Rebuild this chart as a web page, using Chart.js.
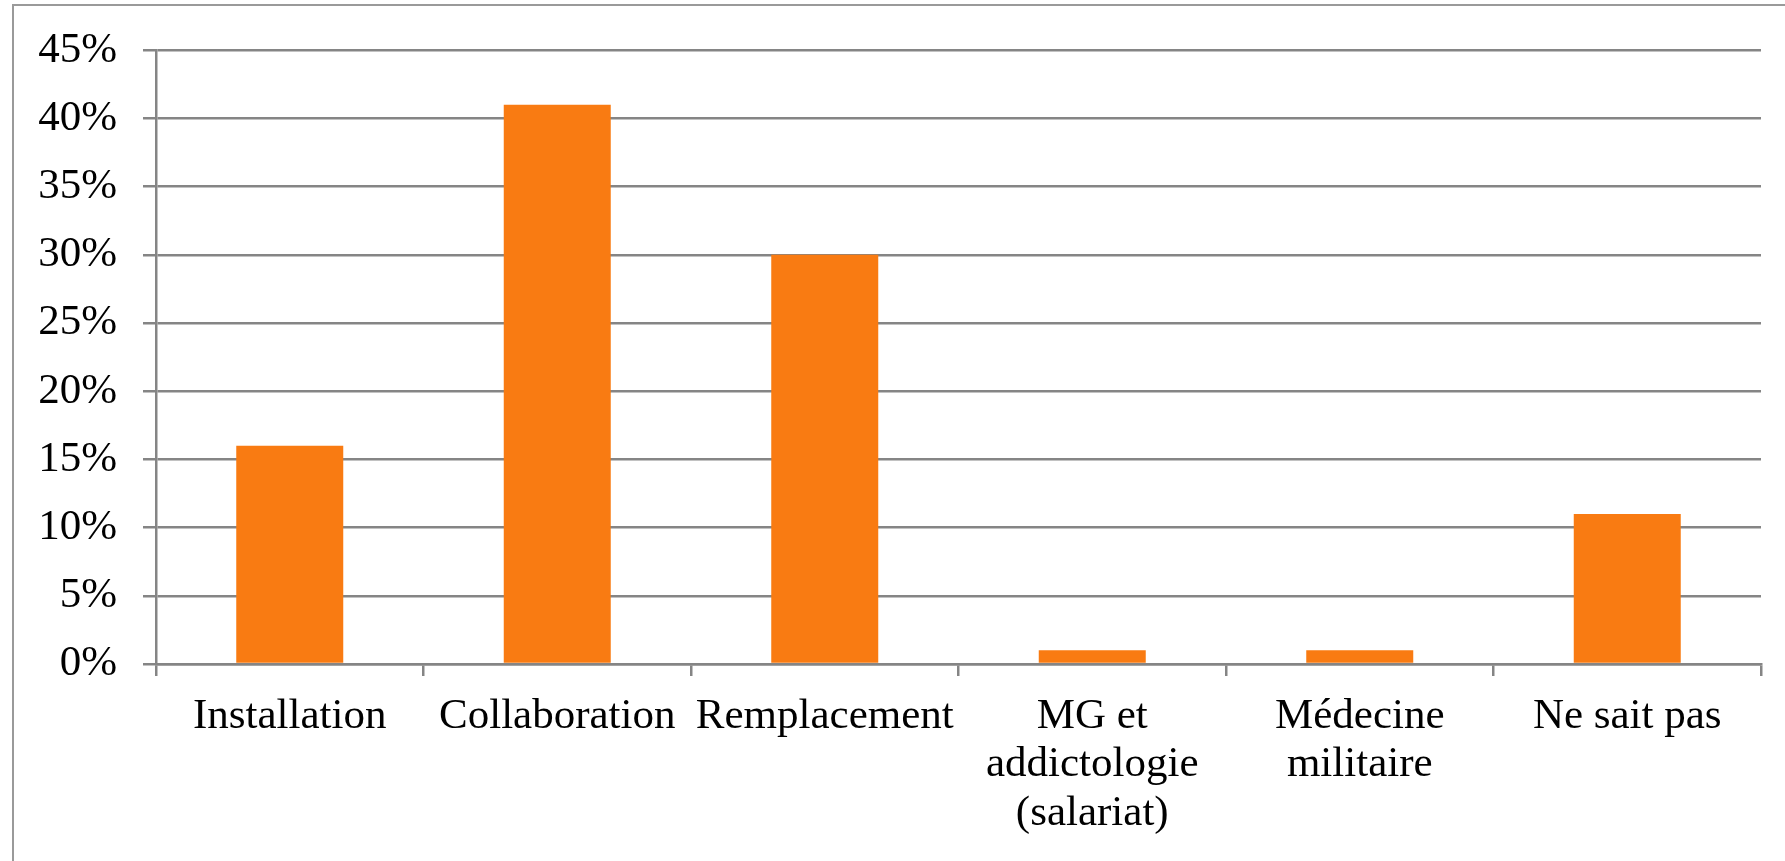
<!DOCTYPE html>
<html>
<head>
<meta charset="utf-8">
<script src="https://cdn.jsdelivr.net/npm/chart.js@4"></script>
<style>
    html, body { margin: 0; padding: 0; background: #fff; overflow: hidden; }
    #frame {
        position: absolute; left: 12px; top: 4px; width: 2000px; height: 2000px;
        border-left: 2px solid #9a9a9a; border-top: 2px solid #9a9a9a;
    }
    #wrap { position: absolute; left: 0; top: 0; width: 1785px; height: 861px; }
</style>
</head>
<body>
<div id="frame"></div>
<div id="wrap"><canvas id="choixChart"></canvas></div>
<script>
// Données (%)
const categories = [
    'Installation',
    'Collaboration',
    'Remplacement',
    ['MG et', 'addictologie', '(salariat)'],
    ['Médecine', 'militaire'],
    'Ne sait pas'
];
const pourcentages = [16, 41, 30, 1, 1, 11];
const yMax = 45;
const yStep = 5;

const gris = '#858585';
const police = { family: '"Liberation Serif", "Times New Roman", serif', size: 43, lineHeight: 1.13 };

new Chart(document.getElementById('choixChart').getContext('2d'), {
    type: 'bar',
    data: {
        labels: categories,
        datasets: [{
            data: pourcentages,
            backgroundColor: '#f97b12',
            borderWidth: 0,
            barPercentage: 0.4,
            categoryPercentage: 1
        }]
    },
    options: {
        responsive: true,
        maintainAspectRatio: false,
        animation: false,
        layout: { padding: { top: 49, right: 24, left: 0, bottom: 0 } },
        plugins: { legend: { display: false }, tooltip: { enabled: false } },
        scales: {
            x: {
                afterFit: s => { s.height = 197; },
                grid: { drawOnChartArea: false, drawTicks: true, tickLength: 12, color: gris, lineWidth: 2.5 },
                border: { display: true, color: gris, width: 2.5 },
                ticks: { color: '#000', font: police, padding: 16, maxRotation: 0, autoSkip: false }
            },
            y: {
                min: 0,
                max: yMax,
                afterFit: s => { s.width = 156; },
                grid: { color: gris, lineWidth: 2.5, tickLength: 13 },
                border: { display: true, color: gris, width: 2.5 },
                ticks: {
                    stepSize: yStep,
                    color: '#000',
                    font: police,
                    padding: 26,
                    callback: v => v + '%'
                }
            }
        }
    }
});
</script>
</body>
</html>
